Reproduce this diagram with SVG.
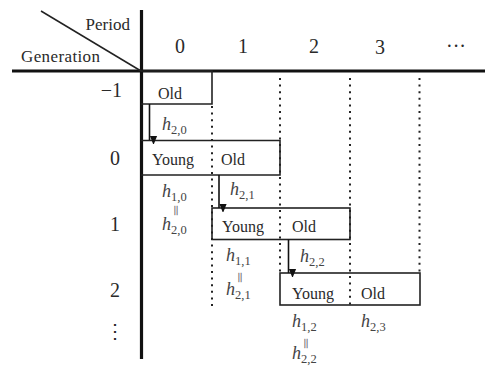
<svg xmlns="http://www.w3.org/2000/svg" width="485" height="370" viewBox="0 0 485 370">
<style>
.t{font-family:"Liberation Serif","Times New Roman",serif;fill:#2a2a2a}
.hd{font-size:20px}
.lb{font-size:17px}
.bx{font-size:16px}
.h{font-family:"Liberation Serif","Times New Roman",serif;font-size:18px;font-style:italic;fill:#444}
.s{font-size:12.5px;font-style:normal}
.eq{font-family:"Liberation Serif","Times New Roman",serif;font-size:11px;fill:#666;stroke:#777;stroke-width:0.3;text-anchor:middle}
.box{fill:none;stroke:#222;stroke-width:1.6}
.dot{stroke:#222;stroke-width:2;stroke-dasharray:2 4.6;fill:none}
.ax{stroke:#111;stroke-width:3.2;fill:none}
</style>
<defs>
<marker id="ah" markerWidth="8" markerHeight="10" refX="4" refY="9" orient="auto" markerUnits="userSpaceOnUse" viewBox="0 0 8 10">
<path d="M0,0 L8,0 L4,10 Z" fill="#111" transform="rotate(-90 4 5)"/>
</marker>
</defs>
<rect width="485" height="370" fill="#fff"/>
<g id="table">
<line class="ax" x1="12" y1="71" x2="485" y2="71"/>
<line class="ax" x1="141.5" y1="10" x2="141.5" y2="359"/>
<line x1="41" y1="11" x2="141" y2="71" stroke="#222" stroke-width="1.5"/>
<text class="t lb" x="130" y="30" text-anchor="end">Period</text>
<text class="t lb" x="21" y="62" textLength="79">Generation</text>
<text class="t hd" x="180" y="53" text-anchor="middle">0</text>
<text class="t hd" x="243" y="53" text-anchor="middle">1</text>
<text class="t hd" x="314" y="53" text-anchor="middle">2</text>
<text class="t hd" x="380" y="54" text-anchor="middle">3</text>
<text class="t hd" x="456" y="53" text-anchor="middle">···</text>
<text class="t hd" x="122" y="97" text-anchor="end">−1</text>
<text class="t hd" x="115" y="165" text-anchor="middle">0</text>
<text class="t hd" x="115" y="231" text-anchor="middle">1</text>
<text class="t hd" x="115" y="297" text-anchor="middle">2</text>
<text class="t hd" x="115" y="338" text-anchor="middle">⋮</text>
</g>
<g id="gridlines">
<line class="dot" x1="212" y1="106" x2="212" y2="306"/>
<line class="dot" x1="280" y1="78" x2="280" y2="273"/>
<line class="dot" x1="350" y1="78" x2="350" y2="306"/>
<line class="dot" x1="419.5" y1="78" x2="419.5" y2="273"/>
</g>
<g id="gen-1">
<path class="box" d="M141,71 H212 V104 H141"/>
<text class="t bx" x="158" y="99">Old</text>
</g>
<g id="gen0">
<path class="box" d="M141,140.5 H280 V175 H141"/>
<text class="t bx" x="152" y="165">Young</text>
<text class="t bx" x="221" y="165">Old</text>
<text class="h" x="162" y="197">h<tspan class="s" dy="4">1,0</tspan></text>
<text class="eq" x="176" y="213">||</text>
<text class="h" x="162" y="230">h<tspan class="s" dy="4">2,0</tspan></text>
</g>
<g id="gen1">
<rect class="box" x="212" y="208" width="138" height="31.5"/>
<text class="t bx" x="222" y="232">Young</text>
<text class="t bx" x="292" y="232">Old</text>
<text class="h" x="226" y="261">h<tspan class="s" dy="4">1,1</tspan></text>
<text class="eq" x="240" y="280">||</text>
<text class="h" x="226" y="295">h<tspan class="s" dy="4">2,1</tspan></text>
</g>
<g id="gen2">
<rect class="box" x="280" y="273" width="140" height="32"/>
<text class="t bx" x="292" y="299">Young</text>
<text class="t bx" x="361" y="299">Old</text>
<text class="h" x="292" y="327">h<tspan class="s" dy="4">1,2</tspan></text>
<text class="eq" x="306" y="346">||</text>
<text class="h" x="292" y="359">h<tspan class="s" dy="4">2,2</tspan></text>
<text class="h" x="361" y="327">h<tspan class="s" dy="4">2,3</tspan></text>
</g>
<g id="connectors">
<line x1="149.5" y1="104" x2="149.5" y2="140" stroke="#111" stroke-width="1.6" marker-end="url(#ah)"/>
<line x1="219" y1="175" x2="219" y2="208" stroke="#111" stroke-width="1.6" marker-end="url(#ah)"/>
<line x1="288.5" y1="239.5" x2="288.5" y2="273" stroke="#111" stroke-width="1.6" marker-end="url(#ah)"/>
<text class="h" x="162" y="130">h<tspan class="s" dy="4">2,0</tspan></text>
<text class="h" x="230" y="195">h<tspan class="s" dy="4">2,1</tspan></text>
<text class="h" x="300" y="262">h<tspan class="s" dy="4">2,2</tspan></text>
</g>
</svg>
